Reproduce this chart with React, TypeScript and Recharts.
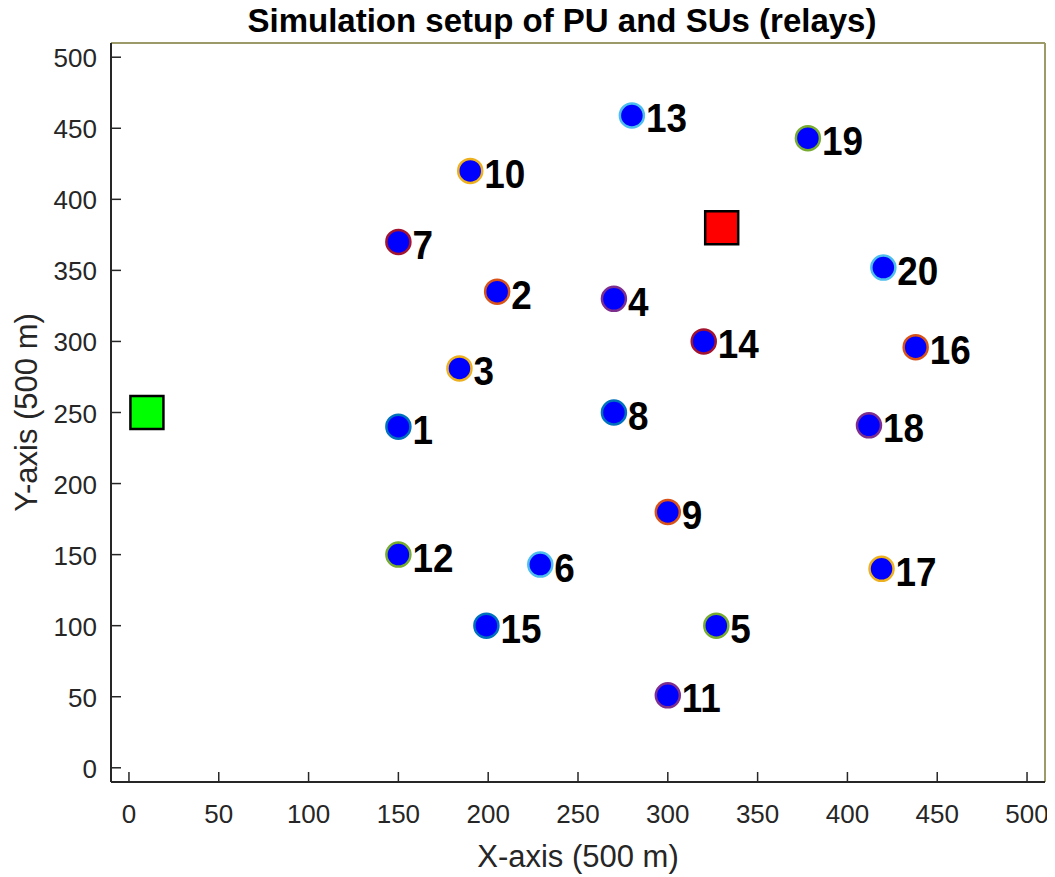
import { ScatterChart, Scatter, XAxis, YAxis, ReferenceLine, Label } from 'recharts'

// relay (SU) positions, label = relay number
const relayIds = [1, 2, 3, 4, 5, 6, 7, 8, 9, 10, 11, 12, 13, 14, 15, 16, 17, 18, 19, 20]
const relayX = [150, 205, 184, 270, 327, 229, 150, 270, 300, 190, 300, 150, 280, 320, 199, 438, 419, 412, 378, 420]
const relayY = [240, 335, 281, 330, 100, 143, 370, 250, 180, 420, 51, 150, 459, 300, 100, 296, 140, 241, 443, 352]

// PU nodes drawn as squares
const puNames = ['PU-Tx', 'PU-Rx']
const puX = [10, 330]
const puY = [250, 380]
const puFill = ['#00ff00', '#ff0000']

const axisTicks = [0, 50, 100, 150, 200, 250, 300, 350, 400, 450, 500]

// MATLAB default color order, cycled for the marker edges
const edgeColors = ['#0072BD', '#D95319', '#EDB120', '#7E2F8E', '#77AC30', '#4DBEEE', '#A2142F']

const relays = relayIds.map((id, i) => ({ id, x: relayX[i], y: relayY[i], edge: edgeColors[i % edgeColors.length] }))
const pus = puNames.map((name, i) => ({ name, x: puX[i], y: puY[i], fill: puFill[i] }))

const font = 'Liberation Sans, Arial, Helvetica, sans-serif'
const axisColor = '#262626'
const boxColor = '#9d9a6a'

function XTick(props: any) {
  const { x, y, payload } = props
  const axisY = y - 10
  return (
    <g>
      <line x1={x} x2={x} y1={axisY} y2={axisY - 10} stroke={axisColor} strokeWidth={1.5} />
      <text x={x} y={axisY + 41} textAnchor="middle" fill={axisColor} fontSize={26} fontFamily={font}>
        {payload.value}
      </text>
    </g>
  )
}

function YTick(props: any) {
  const { x, y, payload } = props
  const axisX = x + 10
  return (
    <g>
      <line x1={axisX} x2={axisX + 10} y1={y} y2={y} stroke={axisColor} strokeWidth={1.5} />
      <text x={axisX - 14} y={y + 10} textAnchor="end" fill={axisColor} fontSize={26} fontFamily={font}>
        {payload.value}
      </text>
    </g>
  )
}

function RelayDot(props: any) {
  const { cx, cy, payload } = props
  return (
    <g>
      <circle cx={cx} cy={cy} r={12} fill="#0000ff" stroke={payload.edge} strokeWidth={2.5} />
      <text
        transform={`translate(${cx + 14},${cy + 17}) scale(0.9,1)`}
        fontSize={41}
        fontWeight="bold"
        fontFamily={font}
        fill="#000"
      >
        {payload.id}
      </text>
    </g>
  )
}

function PuSquare(props: any) {
  const { cx, cy, payload } = props
  return <rect x={cx - 16.5} y={cy - 16.5} width={33} height={33} fill={payload.fill} stroke="#000" strokeWidth={2.5} />
}

export default function App() {
  return (
    <div style={{ position: 'relative', width: 1047, height: 869, background: '#fff' }}>
      <div
        style={{
          position: 'absolute',
          top: -4,
          left: 87,
          width: 934,
          textAlign: 'center',
          fontFamily: font,
          fontWeight: 'bold',
          fontSize: 33,
          lineHeight: '34px',
          color: '#000',
        }}
      >
        Simulation setup of PU and SUs (relays)
      </div>
      <ScatterChart width={1047} height={869} margin={{ top: 35, right: 10, left: 0, bottom: 0 }}>
        <XAxis
          type="number"
          dataKey="x"
          domain={[-10, 510]}
          ticks={axisTicks}
          allowDataOverflow
          height={95}
          tickSize={0}
          tickMargin={10}
          tickLine={false}
          tick={<XTick />}
          axisLine={{ stroke: axisColor, strokeWidth: 2 }}
        >
          <Label
            value="X-axis (500 m)"
            position="insideBottom"
            offset={10}
            style={{ fontSize: 31, fontFamily: font, fill: axisColor }}
          />
        </XAxis>
        <YAxis
          type="number"
          dataKey="y"
          domain={[-10, 510]}
          ticks={axisTicks}
          allowDataOverflow
          width={103}
          tickSize={0}
          tickMargin={10}
          tickLine={false}
          tick={<YTick />}
          axisLine={{ stroke: axisColor, strokeWidth: 2 }}
        >
          <Label
            value="Y-axis (500 m)"
            angle={-90}
            position="insideLeft"
            offset={18}
            style={{ fontSize: 31, fontFamily: font, fill: axisColor, textAnchor: 'middle' }}
          />
        </YAxis>
        <ReferenceLine y={510} stroke={boxColor} strokeWidth={2} />
        <ReferenceLine x={510} stroke={boxColor} strokeWidth={2} />
        <Scatter data={pus} shape={<PuSquare />} isAnimationActive={false} />
        <Scatter data={relays} shape={<RelayDot />} isAnimationActive={false} />
      </ScatterChart>
    </div>
  )
}
